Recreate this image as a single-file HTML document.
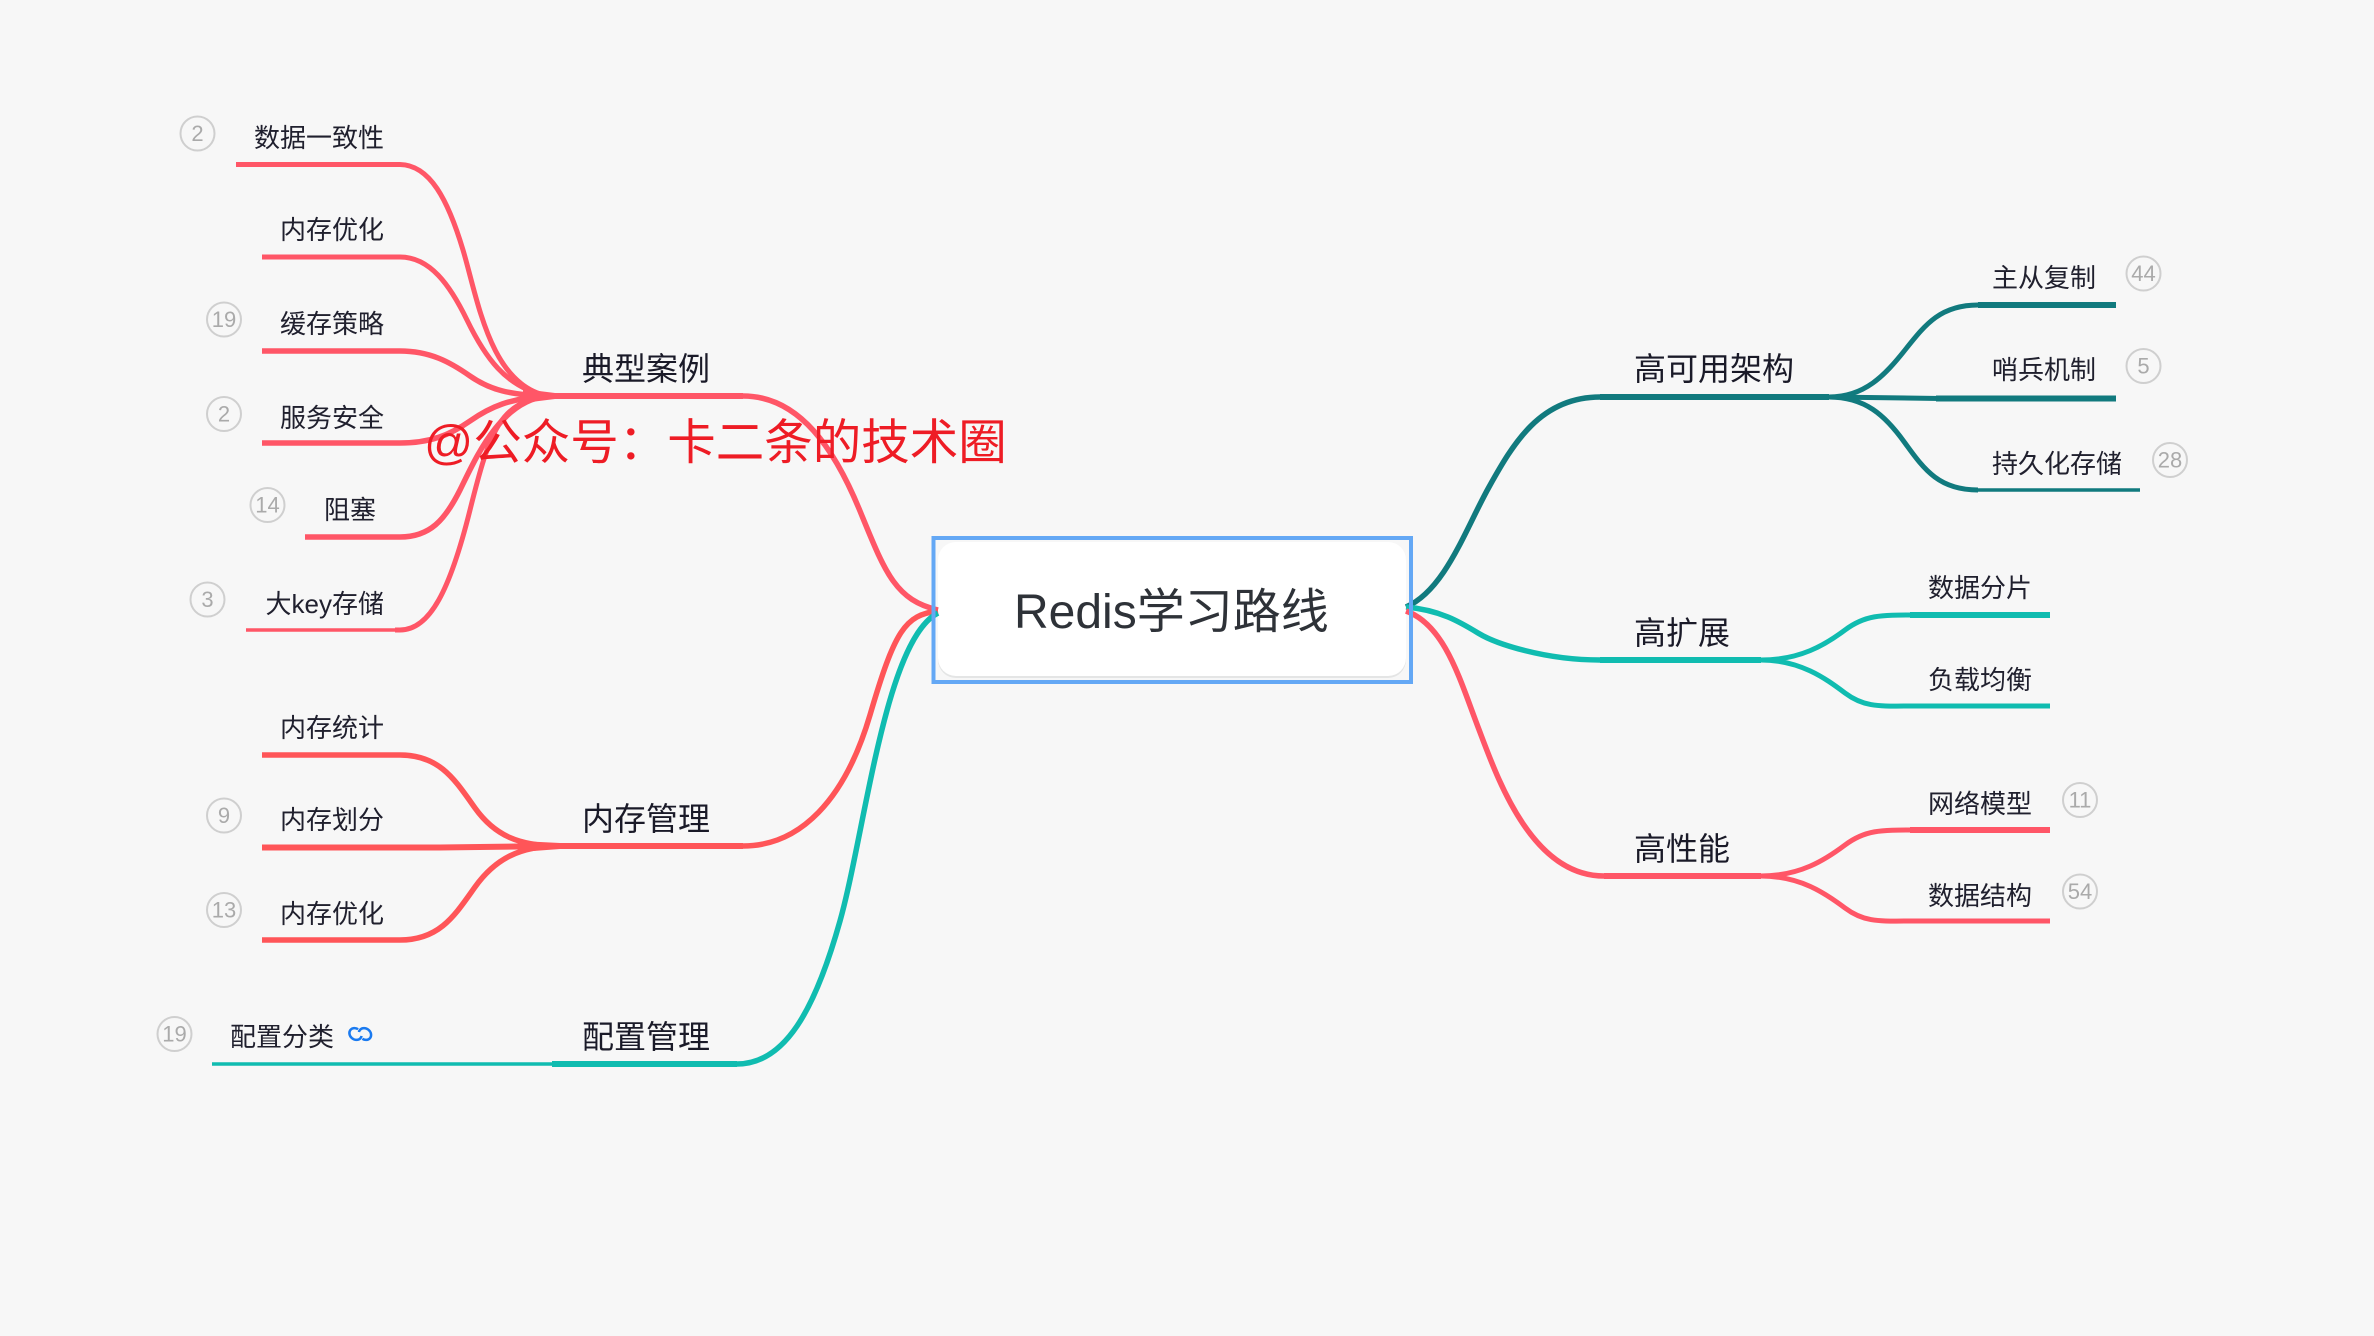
<!DOCTYPE html>
<html lang="zh">
<head>
<meta charset="utf-8">
<title>Redis学习路线</title>
<style>
html,body{margin:0;padding:0;background:#f7f7f7;width:2374px;height:1336px;overflow:hidden}
svg{display:block}
.l{font-family:"Liberation Sans","Noto Sans CJK SC",sans-serif;font-size:26px;fill:#20202e}
.m{font-family:"Liberation Sans","Noto Sans CJK SC",sans-serif;font-size:32px;fill:#1a1a28}
.b{font-family:"Liberation Sans",sans-serif;font-size:22px;fill:#aaaaaa;text-anchor:middle}
.c{fill:#f7f7f7;stroke:#cfcfcf;stroke-width:2}
path{fill:none;stroke-linecap:butt}
</style>
</head>
<body>
<svg width="2374" height="1336" viewBox="0 0 2374 1336" xmlns="http://www.w3.org/2000/svg">
<rect width="2374" height="1336" fill="#f7f7f7"/>

<!-- center node fill -->
<rect x="938" y="544" width="468" height="134" rx="18" fill="#e4e5e5"/>
<rect x="938" y="542" width="468" height="134" rx="18" fill="#ffffff"/>

<!-- red left: 典型案例 -->
<g stroke="#ff5667">
<path stroke-width="5.500" d="M743,396 C800,396 835,450 860,511 S895,600 938,610"/>
<path stroke-width="6" d="M545,396 L743,396"/>
<path stroke-width="5" d="M236,164.500 L400,164.500 C430,165 448,200 463,250 S490,385 548,396"/>
<path stroke-width="5" d="M262,257 L400,257 C430,257 450,285 467,320 S505,388 548,396" stroke-linecap="round"/>
<path stroke-width="5.500" d="M262,351 L400,351 C430,351 450,362 470,376 S510,395 548,396" stroke-linecap="round"/>
<path stroke-width="5.500" d="M262,443 L400,443 C430,443 450,435 470,421 S510,398 548,396" stroke-linecap="round"/>
<path stroke-width="5.500" d="M305,537 L400,537 C430,537 445,520 460,490 S500,400 548,396" stroke-linecap="round"/>
<path stroke-width="3.500" d="M246,630 L400,630"/>
<path stroke-width="5" d="M395,630 L400,630 C430,630 450,590 470,510 S500,402 548,396"/>
<polygon points="523,389 555,393 555,399 523,403" fill="#ff5667" stroke="none"/>
</g>

<!-- red left: 内存管理 -->
<g stroke="#ff5558">
<path stroke-width="5.500" d="M743,846 C800,846 845,800 870,715 S905,615 938,611"/>
<path stroke-width="6" d="M555,846 L743,846"/>
<path stroke-width="5.500" d="M262,755 L400,755 C440,755 455,780 475,808 S520,846 558,846"/>
<path stroke-width="6" d="M262,847.500 L440,847.500 L558,846"/>
<path stroke-width="5.500" d="M262,940 L400,940 C440,940 455,915 475,887 S520,846 558,846"/>
<polygon points="520,841 560,843 560,849 520,852" fill="#ff5558" stroke="none"/>
</g>

<!-- teal left: 配置管理 -->
<g stroke="#10bcb0">
<path stroke-width="5.500" d="M737,1064 C785,1064 815,1010 840,921 S885,640 938,613"/>
<path stroke-width="6" d="M552,1064 L737,1064"/>
<path stroke-width="3.500" d="M212,1064 L552,1064"/>
</g>

<!-- dark teal right -->
<g stroke="#117a7e">
<path stroke-width="5.500" d="M1406,607 C1445,590 1465,530 1489,487 S1540,397 1600,397"/>
<path stroke-width="6" d="M1600,397 L1829,397"/>
<path stroke-width="5" d="M1829,397 C1865,397 1885,375 1905,350 S1940,305 1978,305"/>
<path stroke-width="6" d="M1978,305 L2116,305" stroke-linecap="round"/>
<path stroke-width="5" d="M1829,397 L1940,398.500"/>
<path stroke-width="6" d="M1936,398.500 L2116,398.500" stroke-linecap="round"/>
<path stroke-width="5" d="M1829,397 C1865,397 1885,415 1905,443 S1940,490 1978,490"/>
<path stroke-width="3.500" d="M1975,490 L2140,490"/>
</g>

<!-- teal right -->
<g stroke="#10bcb0">
<path stroke-width="5.500" d="M1406,607 C1440,610 1460,622 1478,633 S1545,660 1600,660"/>
<path stroke-width="6" d="M1600,660 L1761,660"/>
<path stroke-width="5" d="M1761,660 C1800,660 1825,645 1845,630 S1880,615 1915,615"/>
<path stroke-width="6" d="M1910,615 L2050,615"/>
<path stroke-width="5" d="M1761,660 C1800,660 1825,678 1845,693 S1880,706 1915,706"/>
<path stroke-width="5" d="M1910,706 L2050,706"/>
</g>

<!-- red right -->
<g stroke="#ff5667">
<path stroke-width="5.500" d="M1406,611 C1445,625 1460,680 1478,727 S1530,876 1604,876"/>
<path stroke-width="6" d="M1604,876 L1761,876"/>
<path stroke-width="5" d="M1761,876 C1800,876 1825,860 1845,845 S1880,830 1915,830"/>
<path stroke-width="6" d="M1910,830 L2050,830"/>
<path stroke-width="5" d="M1761,876 C1800,876 1825,893 1845,908 S1880,921 1915,921"/>
<path stroke-width="5" d="M1910,921 L2050,921"/>
</g>

<!-- center node border -->
<rect x="933.500" y="538" width="477.500" height="144" fill="none" stroke="#64a8f5" stroke-width="4"/>
<text x="1014" y="628" font-family="'Liberation Sans','Noto Sans CJK SC',sans-serif" font-size="48" fill="#2e3238">Redis学习路线</text>

<!-- left labels -->
<text class="l" x="384" y="147" text-anchor="end">数据一致性</text>
<text class="l" x="384" y="239" text-anchor="end">内存优化</text>
<text class="l" x="384" y="333" text-anchor="end">缓存策略</text>
<text class="l" x="384" y="427" text-anchor="end">服务安全</text>
<text class="l" x="376" y="519" text-anchor="end">阻塞</text>
<text class="l" x="384" y="613" text-anchor="end">大key存储</text>
<text class="l" x="384" y="737" text-anchor="end">内存统计</text>
<text class="l" x="384" y="829" text-anchor="end">内存划分</text>
<text class="l" x="384" y="923" text-anchor="end">内存优化</text>
<text class="l" x="334" y="1046" text-anchor="end">配置分类</text>

<text class="m" x="582" y="380">典型案例</text>
<text class="m" x="582" y="830">内存管理</text>
<text class="m" x="582" y="1048">配置管理</text>

<!-- right main labels -->
<text class="m" x="1634" y="380">高可用架构</text>
<text class="m" x="1634" y="644">高扩展</text>
<text class="m" x="1634" y="860">高性能</text>

<!-- right leaf labels -->
<text class="l" x="1992" y="287">主从复制</text>
<text class="l" x="1992" y="379">哨兵机制</text>
<text class="l" x="1992" y="473">持久化存储</text>
<text class="l" x="1928" y="597">数据分片</text>
<text class="l" x="1928" y="689">负载均衡</text>
<text class="l" x="1928" y="813">网络模型</text>
<text class="l" x="1928" y="905">数据结构</text>

<!-- badges -->
<g>
<circle class="c" cx="197.500" cy="133.500" r="17"/><text class="b" x="197.500" y="141">2</text>
<circle class="c" cx="224" cy="319.500" r="17"/><text class="b" x="224" y="327">19</text>
<circle class="c" cx="224" cy="414" r="17"/><text class="b" x="224" y="421.500">2</text>
<circle class="c" cx="267.500" cy="505" r="17"/><text class="b" x="267.500" y="512.500">14</text>
<circle class="c" cx="207.500" cy="599.500" r="17"/><text class="b" x="207.500" y="607">3</text>
<circle class="c" cx="224" cy="815.500" r="17"/><text class="b" x="224" y="823">9</text>
<circle class="c" cx="224" cy="910" r="17"/><text class="b" x="224" y="917.500">13</text>
<circle class="c" cx="174.500" cy="1034" r="17"/><text class="b" x="174.500" y="1041.500">19</text>
<circle class="c" cx="2143.500" cy="273.500" r="17"/><text class="b" x="2143.500" y="281">44</text>
<circle class="c" cx="2143.500" cy="366" r="17"/><text class="b" x="2143.500" y="373.500">5</text>
<circle class="c" cx="2170" cy="460" r="17"/><text class="b" x="2170" y="467.500">28</text>
<circle class="c" cx="2080" cy="800" r="17"/><text class="b" x="2080" y="807.500">11</text>
<circle class="c" cx="2080" cy="891.500" r="17"/><text class="b" x="2080" y="899">54</text>
</g>

<!-- link icon -->
<g fill="none" stroke="#1a7af0" stroke-width="2.500">
<ellipse cx="355.500" cy="1034" rx="6.500" ry="5.500" stroke-dasharray="27 8" transform="rotate(40 355.500 1034)"/>
<ellipse cx="365" cy="1034" rx="6.500" ry="5.500" stroke-dasharray="27 8" transform="rotate(220 365 1034)"/>
</g>

<!-- watermark -->
<text x="424" y="459" font-family="'Liberation Sans','Noto Sans CJK SC',sans-serif" font-size="48.500" fill="#ee1c25">@公众号：卡二条的技术圈</text>
</svg>
</body>
</html>
